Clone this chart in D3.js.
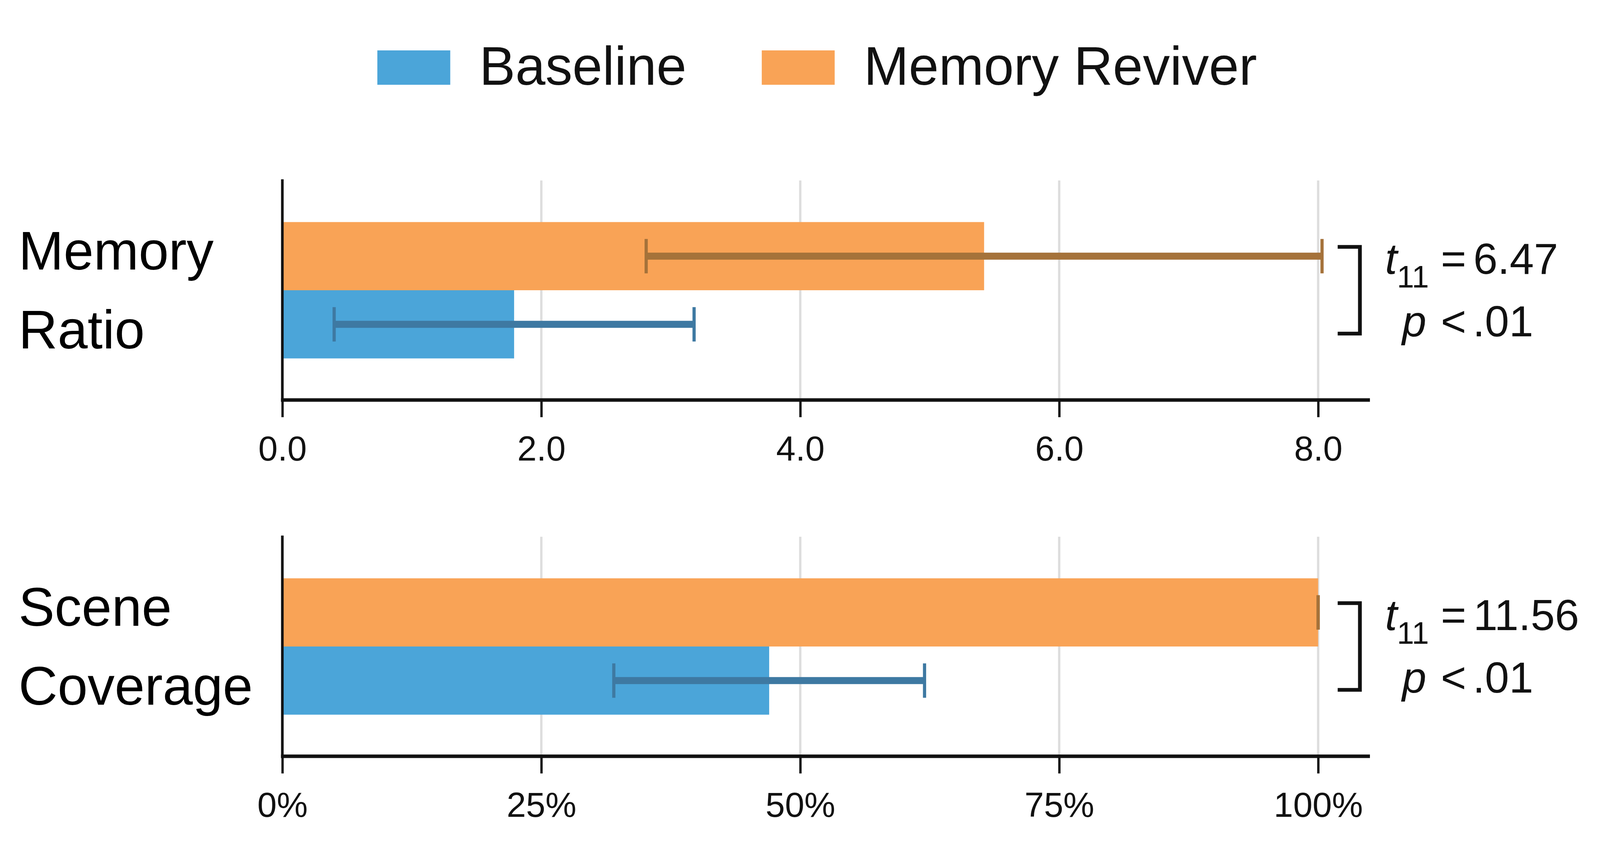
<!DOCTYPE html>
<html>
<head>
<meta charset="utf-8">
<script src="https://cdn.jsdelivr.net/npm/d3@7"></script>
<style>
  html, body { margin: 0; padding: 0; background: #fff; overflow: hidden; }
  svg { display: block; font-family: "Liberation Sans", Arial, Helvetica, sans-serif; }
</style>
</head>
<body>
<div id="chart"></div>
<script>
// values
const metrics = ["Memory Ratio", "Scene Coverage"];
const metricLines = [["Memory", "Ratio"], ["Scene", "Coverage"]];
const conditions = ["Baseline", "Memory Reviver"];
const baselineMeans = [1.79, 0.47];
const baselineErrors = [1.39, 0.15];
const reviverMeans = [5.42, 1.0];
const reviverErrors = [2.61, 0.0];
const xMaxes = [8.4, 1.05];
const tickValues = [
  [0, 2, 4, 6, 8],
  [0, 0.25, 0.5, 0.75, 1.0],
];
const tickLabels = [
  ["0.0", "2.0", "4.0", "6.0", "8.0"],
  ["0%", "25%", "50%", "75%", "100%"],
];
const tDf = "11";
const tValues = ["6.47", "11.56"];
const pTexts = ["< .01", "< .01"];

const colors = {
  Baseline: "#4ba5d9",
  "Memory Reviver": "#f9a356",
};
const errColors = {
  Baseline: "#3e79a2",
  "Memory Reviver": "#a5723a",
};
const ink = "#111111";

class PairedBars {
  constructor({ el }) {
    this.el = el;
    this.init();
  }

  init() {
    // layout is measured in a 5508 x 2199 frame and mapped onto the window
    this.refW = 5508;
    this.refH = 2199;
    this.width = window.innerWidth || this.refW;
    this.height = window.innerHeight || this.refH;
    this.sx = this.width / this.refW;
    this.sy = this.height / this.refH;
    this.X = (v) => v * this.sx;
    this.Y = (v) => v * this.sy;
    this.F = (v) => v * Math.min(this.sx, this.sy);

    this.margin = { left: 972, right: 4716 };
    this.panelTops = [462, 1374];
    this.panelHeight = 562;

    this.svg = d3
      .select(this.el)
      .append("svg")
      .attr("width", this.width)
      .attr("height", this.height)
      .attr("viewBox", [0, 0, this.width, this.height]);

    this.svg
      .append("rect")
      .attr("width", this.width)
      .attr("height", this.height)
      .attr("fill", "#fff");

    this.rows = metrics.map((m, i) => ({
      metric: m,
      lines: metricLines[i],
      bars: [
        { cond: "Memory Reviver", mean: reviverMeans[i], err: reviverErrors[i] },
        { cond: "Baseline", mean: baselineMeans[i], err: baselineErrors[i] },
      ],
      xMax: xMaxes[i],
      ticks: tickValues[i],
      labels: tickLabels[i],
      t: tValues[i],
      p: pTexts[i],
    }));

    this.render();
  }

  render() {
    this.rows.forEach((row, i) => this.renderPanel(row, i));
    this.renderLegend();
  }

  renderPanel(row, i) {
    const { X, Y, F } = this;
    const top = Y(this.panelTops[i]);
    const bottom = Y(this.panelTops[i] + this.panelHeight);
    const left = X(this.margin.left);
    const right = X(this.margin.right);

    const x = d3.scaleLinear().domain([0, row.xMax]).range([left, right]);

    const y = d3
      .scaleBand()
      .domain(row.bars.map((d) => d.cond))
      .range([top, bottom])
      .paddingInner(0)
      .paddingOuter(0.61);

    const g = this.svg.append("g").attr("class", "panel");

    // grid
    g.append("g")
      .selectAll("line")
      .data(row.ticks.filter((d) => d > 0))
      .join("line")
      .attr("x1", (d) => x(d))
      .attr("x2", (d) => x(d))
      .attr("y1", top)
      .attr("y2", bottom)
      .attr("stroke", "#dddddd")
      .attr("stroke-width", X(8));

    // bars
    g.append("g")
      .selectAll("rect")
      .data(row.bars)
      .join("rect")
      .attr("x", x(0))
      .attr("y", (d) => y(d.cond))
      .attr("width", (d) => x(d.mean) - x(0))
      .attr("height", y.bandwidth())
      .attr("fill", (d) => colors[d.cond]);

    // error bars
    const capHalf = Y(44);
    const err = g
      .append("g")
      .selectAll("g")
      .data(row.bars)
      .join("g")
      .attr("stroke", (d) => errColors[d.cond]);
    err
      .append("line")
      .attr("x1", (d) => x(d.mean - d.err))
      .attr("x2", (d) => x(d.mean + d.err))
      .attr("y1", (d) => y(d.cond) + y.bandwidth() / 2)
      .attr("y2", (d) => y(d.cond) + y.bandwidth() / 2)
      .attr("stroke-width", Y(18));
    err
      .selectAll(".cap")
      .data((d) => [
        { v: d.mean - d.err, c: d.cond },
        { v: d.mean + d.err, c: d.cond },
      ])
      .join("line")
      .attr("class", "cap")
      .attr("x1", (d) => x(d.v))
      .attr("x2", (d) => x(d.v))
      .attr("y1", (d) => y(d.c) + y.bandwidth() / 2 - capHalf)
      .attr("y2", (d) => y(d.c) + y.bandwidth() / 2 + capHalf)
      .attr("stroke-width", X(11));

    // x axis
    const axis = g
      .append("g")
      .attr("transform", `translate(0,${bottom})`)
      .call(
        d3
          .axisBottom(x)
          .tickValues(row.ticks)
          .tickFormat((d, k) => row.labels[k])
          .tickSize(Y(44))
          .tickPadding(Y(48))
      );
    axis
      .select(".domain")
      .attr("d", `M${x(0) - X(4.5)},0H${right}`)
      .attr("stroke", ink)
      .attr("stroke-width", Y(9));
    axis.selectAll(".tick line").attr("stroke", ink).attr("stroke-width", X(8));
    axis
      .selectAll(".tick text")
      .attr("fill", ink)
      .attr("font-size", F(120))
      .attr("dy", "0.71em");

    // left spine
    g.append("line")
      .attr("x1", x(0))
      .attr("x2", x(0))
      .attr("y1", top - Y(3))
      .attr("y2", bottom + Y(4.5))
      .attr("stroke", ink)
      .attr("stroke-width", X(9));

    // category label
    const mid = (y("Memory Reviver") + y("Baseline") + y.bandwidth()) / 2;
    g.append("text")
      .attr("x", X(64))
      .attr("y", mid - Y(53))
      .attr("font-size", F(186))
      .attr("fill", "#000")
      .selectAll("tspan")
      .data(row.lines)
      .join("tspan")
      .attr("x", X(64))
      .attr("dy", (d, k) => (k === 0 ? 0 : Y(202)))
      .text((d) => d);

    // significance bracket
    const bx0 = X(this.margin.right - 111);
    const bx1 = X(this.margin.right - 34.5);
    const bh = Y(111);
    g.append("path")
      .attr("d", `M${bx0},${mid - bh}H${bx1}V${mid + bh}H${bx0}`)
      .attr("fill", "none")
      .attr("stroke", ink)
      .attr("stroke-width", F(13))
      .attr("stroke-linejoin", "miter");

    const tLine = g
      .append("text")
      .attr("y", mid - Y(42))
      .attr("font-size", F(150))
      .attr("fill", ink);
    tLine
      .append("tspan")
      .attr("x", bx0 + X(163))
      .attr("font-style", "italic")
      .text("t");
    tLine
      .append("tspan")
      .attr("x", bx0 + X(204))
      .attr("dy", Y(35))
      .attr("font-size", F(106))
      .text(tDf);
    tLine
      .append("tspan")
      .attr("x", bx0 + X(355))
      .attr("dy", -Y(35))
      .text("=");
    tLine
      .append("tspan")
      .attr("x", bx0 + X(467))
      .text(row.t);

    const pLine = g
      .append("text")
      .attr("y", mid + Y(118))
      .attr("font-size", F(150))
      .attr("fill", ink);
    pLine
      .append("tspan")
      .attr("x", bx0 + X(222))
      .attr("font-style", "italic")
      .text("p");
    pLine
      .append("tspan")
      .attr("x", bx0 + X(355))
      .text(row.p.split(" ")[0]);
    pLine
      .append("tspan")
      .attr("x", bx0 + X(465))
      .text(row.p.split(" ")[1]);
  }

  renderLegend() {
    const { X, Y, F } = this;
    const swW = X(251);
    const swH = Y(88);
    const gap = X(100);
    const between = X(259);
    const baseline = Y(217);
    let cx = X(1299);
    const lg = this.svg.append("g").attr("class", "legend");
    conditions.forEach((c) => {
      lg.append("rect")
        .attr("x", cx)
        .attr("y", baseline - swH)
        .attr("width", swW)
        .attr("height", swH)
        .attr("fill", colors[c]);
      const t = lg
        .append("text")
        .attr("x", cx + swW + gap)
        .attr("y", baseline)
        .attr("font-size", F(186))
        .attr("fill", ink)
        .text(c);
      const w = t.node().getComputedTextLength();
      cx = cx + swW + gap + w + between;
    });
  }
}

new PairedBars({ el: document.getElementById("chart") });
</script>
</body>
</html>
